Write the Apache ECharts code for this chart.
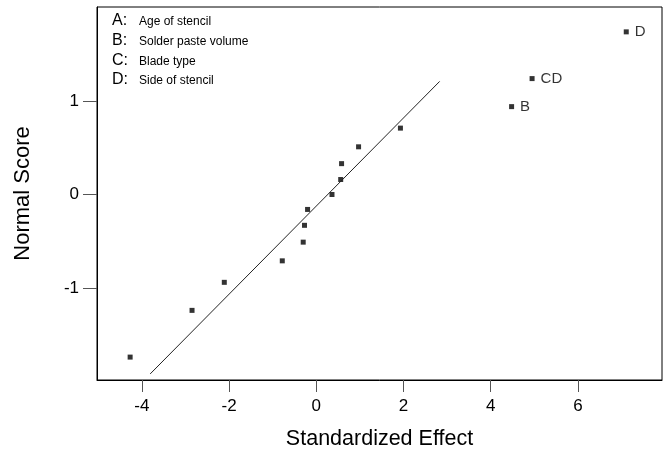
<!DOCTYPE html>
<html>
<head>
<meta charset="utf-8">
<script src="https://cdn.jsdelivr.net/npm/echarts@6/dist/echarts.min.js"></script>
<style>
  html, body { margin: 0; padding: 0; background: #fff; }
  #chart { width: 664px; height: 455px; }
</style>
</head>
<body>
<div id="chart"></div>
<script>
// standardized effects and their normal scores
const effects = [-4.27, -2.85, -2.11, -0.78, -0.30, -0.27, -0.20, 0.36, 0.56, 0.58, 0.97, 1.93, 4.48, 4.95, 7.11]
const scores = [-1.74, -1.24, -0.94, -0.71, -0.51, -0.33, -0.16, 0, 0.16, 0.33, 0.51, 0.71, 0.94, 1.24, 1.74]
const pointLabels = ['', '', '', '', '', '', '', '', '', '', '', '', 'B', 'CD', 'D']
// reference line end points
const lineX = [-3.81, 2.83]
const lineY = [-1.92, 1.21]
const xTicks = [-4, -2, 0, 2, 4, 6]
const yTicks = [-1, 0, 1]
const factorKeys = ['A:', 'B:', 'C:', 'D:']
const factorNames = ['Age of stencil', 'Solder paste volume', 'Blade type', 'Side of stencil']

const font = 'Liberation Sans, Arial, sans-serif'
const chart = echarts.init(document.getElementById('chart'))

const legendGraphics = []
const rowY = [22, 42, 62, 81]
factorKeys.forEach((k, i) => {
  legendGraphics.push({
    type: 'text', left: 112, top: rowY[i] - 9,
    style: { text: k, font: '16px ' + font, fill: '#000' }
  })
  legendGraphics.push({
    type: 'text', left: 139, top: rowY[i] - 6,
    style: { text: factorNames[i], font: '12px ' + font, fill: '#000' }
  })
})

chart.setOption({
  animation: false,
  grid: {
    left: 97, right: 2, top: 7, bottom: 72,
    show: true, borderColor: '#000', borderWidth: 1
  },
  xAxis: {
    type: 'value',
    min: -5.03, max: 7.93,
    name: 'Standardized Effect',
    nameLocation: 'middle',
    nameGap: 48,
    nameTextStyle: { fontSize: 21.5, fontFamily: font, color: '#000' },
    axisLine: { show: true, onZero: false, lineStyle: { color: '#000' } },
    axisTick: { show: true, length: 12, customValues: xTicks, lineStyle: { color: '#555' } },
    axisLabel: { customValues: xTicks, margin: 18, fontSize: 17, fontFamily: font, color: '#000' },
    splitLine: { show: false }
  },
  yAxis: {
    type: 'value',
    min: -1.985, max: 2.006,
    name: 'Normal Score',
    nameLocation: 'middle',
    nameGap: 63,
    nameTextStyle: { fontSize: 22, fontFamily: font, color: '#000' },
    axisLine: { show: true, onZero: false, lineStyle: { color: '#000' } },
    axisTick: { show: true, length: 14, customValues: yTicks, lineStyle: { color: '#555' } },
    axisLabel: { customValues: yTicks, margin: 18, fontSize: 17, fontFamily: font, color: '#000' },
    splitLine: { show: false }
  },
  graphic: legendGraphics,
  series: [
    {
      type: 'line',
      data: lineX.map((x, i) => [x, lineY[i]]),
      symbol: 'none',
      lineStyle: { color: '#222', width: 1 },
      silent: true
    },
    {
      type: 'scatter',
      symbol: 'rect',
      symbolSize: 5,
      itemStyle: { color: '#000' },
      data: effects.map((x, i) => [x, scores[i]]),
      label: {
        show: true,
        position: 'right',
        distance: 6,
        formatter: p => pointLabels[p.dataIndex],
        fontSize: 15,
        fontFamily: font,
        color: '#000'
      }
    }
  ]
})
</script>
</body>
</html>
